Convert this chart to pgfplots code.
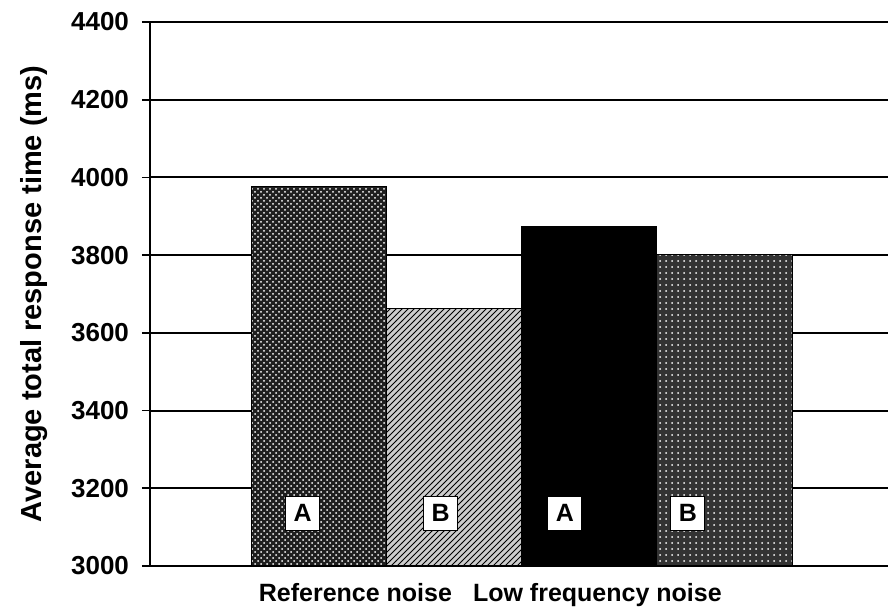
\documentclass[border=0pt]{standalone}
\usepackage{pgfplots}
\pgfplotsset{compat=1.18}
\usepackage{fontspec}
\setmainfont{Liberation Sans}
\usetikzlibrary{patterns}
\tikzset{labelbox/.style={fill=white, draw=black, line width=0.5pt, minimum size=17pt, inner sep=0pt, font=\bfseries\fontsize{12.5}{13}\selectfont}}
\begin{document}
\begin{tikzpicture}
\begin{axis}[
  scale only axis,
  width=369pt, height=272pt,
  xmin=-1.25, xmax=4.21,
  ymin=3000, ymax=4400,
  ytick={3000,3200,...,4400},
  xtick={0.27,2.06},
  xticklabels={Reference noise, Low frequency noise},
  x tick label style={font=\bfseries\fontsize{12.5}{14}\selectfont, yshift=-1pt},
  y tick label style={font=\bfseries\fontsize{13}{14}\selectfont, xshift=-3pt},
  /pgf/number format/assume math mode=true,
  /pgf/number format/set thousands separator={},
  axis x line=bottom, axis y line=left,
  axis line style={black, line width=0.9pt, -},
  x axis line style={draw=none},
  tick align=outside,
  major tick length=4pt,
  ytick style={black, line width=0.9pt},
  xtick style={draw=none},
  ymajorgrids,
  grid style={black, line width=1pt},
  ylabel={Average total response time (ms)},
  ylabel style={font=\bfseries\fontsize{14.5}{16}\selectfont, yshift=5pt},
  ybar, bar width=1,
  clip=false,
]
\addplot[bar shift=0, draw=black, fill=black!88, postaction={pattern=crosshatch dots, pattern color=white}] coordinates {(0,3977)};
\addplot[bar shift=0, draw=black, fill=black!20, postaction={pattern=north east lines, pattern color=black}] coordinates {(1,3663)};
\addplot[bar shift=0, draw=black, fill=black] coordinates {(2,3874)};
\addplot[bar shift=0, draw=black, fill=black!80, postaction={pattern=dots, pattern color=white}] coordinates {(3,3802)};
\draw[black, line width=1pt] (axis cs:-1.25,3000) -- (axis cs:4.21,3000);
\node[labelbox] at (axis cs:-0.12,3136) {A};
\node[labelbox] at (axis cs:0.90,3136) {B};
\node[labelbox] at (axis cs:1.82,3136) {A};
\node[labelbox] at (axis cs:2.73,3136) {B};
\end{axis}
\pgfresetboundingbox
\path (current axis.south west) ++(-75pt,-24.5pt) rectangle ([yshift=11pt]current axis.north east);
\end{tikzpicture}
\end{document}
